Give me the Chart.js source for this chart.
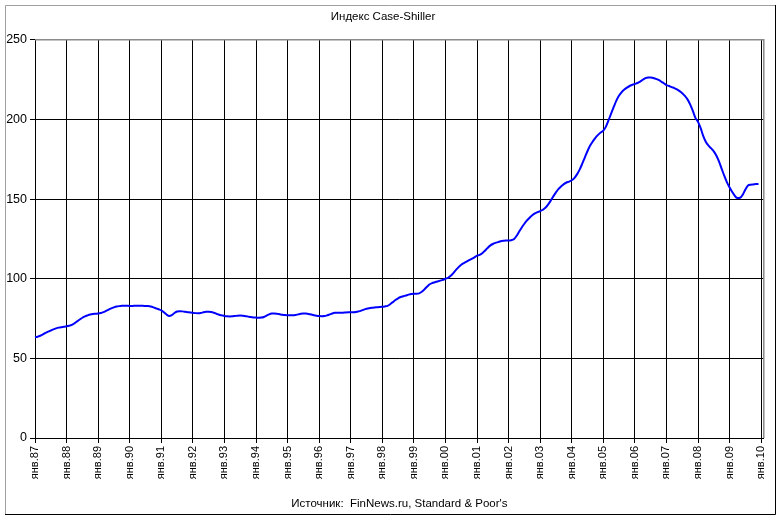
<!DOCTYPE html>
<html>
<head>
<meta charset="utf-8">
<script src="https://cdn.jsdelivr.net/npm/chart.js@4.4.0/dist/chart.umd.min.js"></script>
<style>
  body { margin: 0; background: #fff; }
</style>
</head>
<body>
<canvas id="myChart" width="780" height="520"></canvas>
<script>
// Case-Shiller index, monthly, Jan 1987 - Dec 2009
const chartTitle = 'Индекс Case-Shiller';
const sourceText = "Источник:  FinNews.ru, Standard & Poor's";

const monthNames = ['янв', 'фев', 'мар', 'апр', 'май', 'июн', 'июл', 'авг', 'сен', 'окт', 'ноя', 'дек'];
const years = ['87', '88', '89', '90', '91', '92', '93', '94', '95', '96', '97', '98',
               '99', '00', '01', '02', '03', '04', '05', '06', '07', '08', '09'];

const indexValues = [
    63.3, 63.6, 64.2, 65.0, 66.0, 66.8, 67.5, 68.2, 68.8, 69.3, 69.6, 69.8,      // 1987
    70.2, 70.5, 71.0, 72.0, 73.2, 74.4, 75.5, 76.4, 77.0, 77.5, 77.8, 78.0,      // 1988
    78.2, 78.5, 79.0, 79.8, 80.6, 81.4, 82.0, 82.5, 82.8, 83.0, 83.1, 83.0,      // 1989
    82.9, 82.9, 83.0, 83.1, 83.1, 83.0, 82.9, 82.8, 82.5, 82.0, 81.4, 80.8,      // 1990
    80.2, 79.0, 77.5, 76.6, 77.2, 78.5, 79.4, 79.6, 79.5, 79.2, 79.0, 78.8,      // 1991
    78.6, 78.4, 78.3, 78.5, 78.9, 79.2, 79.3, 79.1, 78.6, 78.0, 77.4, 77.0,      // 1992
    76.6, 76.4, 76.3, 76.4, 76.6, 76.8, 76.9, 76.8, 76.5, 76.2, 75.9, 75.7,      // 1993
    75.6, 75.5, 75.6, 76.0, 76.8, 77.6, 78.1, 78.2, 78.0, 77.7, 77.4, 77.2,      // 1994
    77.1, 77.0, 77.0, 77.2, 77.6, 78.0, 78.1, 78.1, 77.9, 77.5, 77.1, 76.8,      // 1995
    76.6, 76.5, 76.6, 77.0, 77.6, 78.2, 78.6, 78.7, 78.7, 78.7, 78.8, 78.9,      // 1996
    79.0, 79.0, 79.1, 79.5, 80.0, 80.6, 81.1, 81.5, 81.8, 82.0, 82.1, 82.2,      // 1997
    82.4, 82.6, 83.0, 84.0, 85.3, 86.6, 87.7, 88.5, 89.0, 89.5, 90.0, 90.4,      // 1998
    90.6, 90.6, 90.8, 91.8, 93.3, 95.0, 96.5, 97.3, 97.8, 98.3, 98.8, 99.3,      // 1999
    100.0, 100.6, 101.8, 103.5, 105.5, 107.3, 108.8, 109.8, 110.7, 111.6, 112.5, 113.4, // 2000
    114.5, 115.0, 116.0, 117.6, 119.3, 120.8, 121.8, 122.5, 123.0, 123.5, 123.8, 124.0, // 2001
    124.0, 124.2, 124.8, 126.8, 129.5, 132.2, 134.5, 136.6, 138.3, 139.8, 141.0, 141.8, // 2002
    142.4, 143.3, 144.5, 146.5, 149.0, 151.7, 154.2, 156.4, 158.0, 159.4, 160.4, 161.0, // 2003
    161.8, 163.2, 165.5, 168.5, 172.2, 176.2, 180.2, 183.6, 186.2, 188.5, 190.3, 191.8, // 2004
    193.0, 195.5, 199.5, 203.8, 208.0, 212.0, 215.0, 217.2, 218.8, 220.0, 221.0, 221.7, // 2005
    222.3, 222.9, 223.8, 224.9, 225.9, 226.4, 226.4, 226.0, 225.5, 224.8, 223.8, 222.7, // 2006
    221.6, 221.0, 220.3, 219.7, 218.9, 217.8, 216.5, 214.8, 212.6, 209.5, 205.5, 201.0, // 2007
    198.5, 194.5, 189.5, 185.8, 183.5, 181.8, 180.0, 177.2, 173.5, 169.0, 164.5, 160.5, // 2008
    157.3, 154.5, 152.0, 150.6, 150.8, 152.8, 156.0, 158.5, 159.0, 159.2, 159.4, 159.5  // 2009
];

const yTicks = [0, 50, 100, 150, 200, 250];

// monthly category labels, plus a little room after янв.10
const labels = [];
years.forEach(y => monthNames.forEach(m => labels.push(m + '.' + y)));
labels.push('янв.10', 'фев.10');

// frame around the picture and grey top/right edge of the plot
const framePlugin = {
    id: 'frame',
    beforeDraw(chart) {
        const ctx = chart.ctx;
        ctx.save();
        ctx.fillStyle = '#fff';
        ctx.fillRect(0, 0, chart.width, chart.height);
        ctx.lineWidth = 1;
        ctx.strokeStyle = '#a0a0a0';
        ctx.beginPath();
        ctx.moveTo(5.5, 514); ctx.lineTo(5.5, 5.5); ctx.lineTo(775, 5.5);
        ctx.stroke();
        ctx.strokeStyle = '#000';
        ctx.beginPath();
        ctx.moveTo(775.5, 5); ctx.lineTo(775.5, 514.5); ctx.lineTo(5, 514.5);
        ctx.stroke();
        ctx.restore();
    },
    beforeDatasetsDraw(chart) {
        const a = chart.chartArea;
        const ctx = chart.ctx;
        ctx.save();
        ctx.strokeStyle = '#8a8a8a';
        ctx.lineWidth = 1.5;
        ctx.beginPath();
        ctx.moveTo(a.left, a.top); ctx.lineTo(a.right, a.top); ctx.lineTo(a.right, a.bottom);
        ctx.stroke();
        ctx.restore();
    }
};

const ctx = document.getElementById('myChart').getContext('2d');
const myChart = new Chart(ctx, {
    type: 'line',
    data: {
        labels: labels,
        datasets: [{
            label: chartTitle,
            data: indexValues,
            borderColor: '#0000ff',
            borderWidth: 2,
            pointRadius: 0,
            cubicInterpolationMode: 'monotone',
            fill: false
        }]
    },
    options: {
        responsive: false,
        animation: false,
        devicePixelRatio: 1,
        layout: { padding: { left: 0, right: 14, top: 0, bottom: 7 } },
        plugins: {
            legend: { display: false },
            tooltip: { enabled: false },
            title: {
                display: true,
                text: chartTitle,
                color: '#000',
                font: { family: 'Liberation Sans', size: 11.5, weight: 'normal' },
                padding: { top: 10, bottom: 16 }
            }
        },
        scales: {
            x: {
                type: 'category',
                offset: false,
                afterFit(scale) { scale.height = 75; },
                grid: {
                    color: c => (c.index % 12 === 0 ? '#000' : 'rgba(0,0,0,0)'),
                    tickColor: c => (c.index % 12 === 0 ? '#000' : 'rgba(0,0,0,0)'),
                    tickLength: 5,
                    lineWidth: 1
                },
                border: { display: true, color: '#000', width: 1 },
                ticks: {
                    autoSkip: false,
                    maxRotation: 90,
                    minRotation: 90,
                    padding: 3,
                    color: '#000',
                    font: { family: 'Liberation Sans', size: 11 },
                    callback: (v, i) => (i % 12 === 0 ? labels[i] : '')
                },
                title: {
                    display: true,
                    text: sourceText,
                    color: '#000',
                    font: { family: 'Liberation Sans', size: 11.5 },
                    padding: { top: 0, bottom: 2 }
                }
            },
            y: {
                min: 0,
                max: 250,
                afterFit(scale) { scale.width = 35; },
                afterBuildTicks(scale) { scale.ticks = yTicks.map(v => ({ value: v })); },
                grid: { color: '#000', tickColor: '#000', tickLength: 5, lineWidth: 1 },
                border: { display: true, color: '#000', width: 1 },
                ticks: {
                    padding: 3,
                    color: '#000',
                    font: { family: 'Liberation Sans', size: 12.5 }
                }
            }
        }
    },
    plugins: [framePlugin]
});
</script>
</body>
</html>
